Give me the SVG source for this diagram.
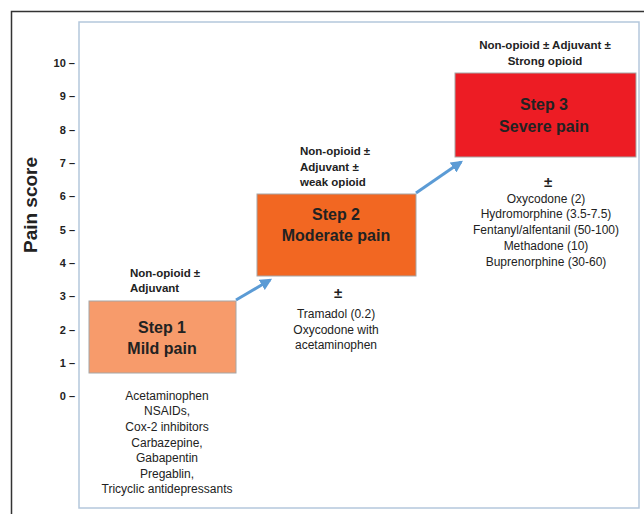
<svg xmlns="http://www.w3.org/2000/svg" width="644" height="514" viewBox="0 0 644 514">
<style>
text{font-family:"Liberation Sans",Arial,sans-serif;fill:#222}
.tick{font-size:11px;font-weight:bold;text-anchor:end}
.lbl{font-size:11.5px;font-weight:bold}
.ttl{font-size:16px;font-weight:bold;text-anchor:middle}
.lst{font-size:12px;text-anchor:middle}
.pm{font-size:15px;font-weight:bold;text-anchor:middle}
.arr{stroke:#5B9BD5;stroke-width:3;fill:none;marker-end:url(#ah)}
.box{stroke:#A6A6A6;stroke-width:1}
</style>
<defs>
<marker id="ah" viewBox="0 0 10 10" refX="8" refY="5" markerWidth="4" markerHeight="4" orient="auto" markerUnits="strokeWidth">
<path d="M0,0 L10,5 L0,10 z" fill="#5B9BD5"/>
</marker>
</defs>
<rect width="644" height="514" fill="#fff"/>
<path d="M11.5,514 V11.5 H644" fill="none" stroke="#333" stroke-width="1.5"/>
<rect x="79" y="22" width="560" height="486" fill="none" stroke="#B4C7DC" stroke-width="1.5"/>
<g id="axis">
<text x="31" y="205" transform="rotate(-90 31 205)" style="font-size:19px;font-weight:bold;text-anchor:middle" dy="6">Pain score</text>
<text class="tick" x="75" y="67">10 –</text>
<text class="tick" x="75" y="100">9 –</text>
<text class="tick" x="75" y="134">8 –</text>
<text class="tick" x="75" y="167">7 –</text>
<text class="tick" x="75" y="200">6 –</text>
<text class="tick" x="75" y="234">5 –</text>
<text class="tick" x="75" y="267">4 –</text>
<text class="tick" x="75" y="300">3 –</text>
<text class="tick" x="75" y="334">2 –</text>
<text class="tick" x="75" y="367">1 –</text>
<text class="tick" x="75" y="400">0 –</text>
</g>
<g id="step1">
<rect class="box" x="89" y="301" width="147" height="72" fill="#F79B6B"/>
<text class="ttl" x="162" y="333">Step 1</text>
<text class="ttl" x="162" y="354">Mild pain</text>
<text class="lbl" x="130" y="277">Non-opioid ±</text>
<text class="lbl" x="130" y="292">Adjuvant</text>
<text class="lst" x="167" y="400">Acetaminophen</text>
<text class="lst" x="167" y="415">NSAIDs,</text>
<text class="lst" x="167" y="431">Cox-2 inhibitors</text>
<text class="lst" x="167" y="447">Carbazepine,</text>
<text class="lst" x="167" y="462">Gabapentin</text>
<text class="lst" x="167" y="478">Pregablin,</text>
<text class="lst" x="167" y="493">Tricyclic antidepressants</text>
</g>
<g id="step2">
<rect class="box" x="257" y="194" width="159" height="82" fill="#F26722"/>
<text class="ttl" x="336" y="220">Step 2</text>
<text class="ttl" x="336" y="241">Moderate pain</text>
<text class="lbl" x="300" y="155">Non-opioid ±</text>
<text class="lbl" x="300" y="171">Adjuvant ±</text>
<text class="lbl" x="300" y="186">weak opioid</text>
<text class="pm" x="338" y="298">±</text>
<text class="lst" x="336" y="318">Tramadol (0.2)</text>
<text class="lst" x="336" y="334">Oxycodone with</text>
<text class="lst" x="336" y="349">acetaminophen</text>
</g>
<g id="step3">
<rect class="box" x="455" y="73" width="181" height="84" fill="#ED1C24"/>
<text class="ttl" x="544" y="110">Step 3</text>
<text class="ttl" x="544" y="132">Severe pain</text>
<text class="lbl" x="545" y="49" text-anchor="middle">Non-opioid ± Adjuvant ±</text>
<text class="lbl" x="545" y="65" text-anchor="middle">Strong opioid</text>
<text class="pm" x="548" y="187">±</text>
<text class="lst" x="546" y="203">Oxycodone (2)</text>
<text class="lst" x="546" y="218">Hydromorphine (3.5-7.5)</text>
<text class="lst" x="546" y="234">Fentanyl/alfentanil (50-100)</text>
<text class="lst" x="546" y="250">Methadone (10)</text>
<text class="lst" x="546" y="266">Buprenorphine (30-60)</text>
</g>
<g id="connectors">
<line class="arr" x1="236" y1="300" x2="270" y2="280"/>
<line class="arr" x1="416" y1="193" x2="461" y2="162"/>
</g>
</svg>
